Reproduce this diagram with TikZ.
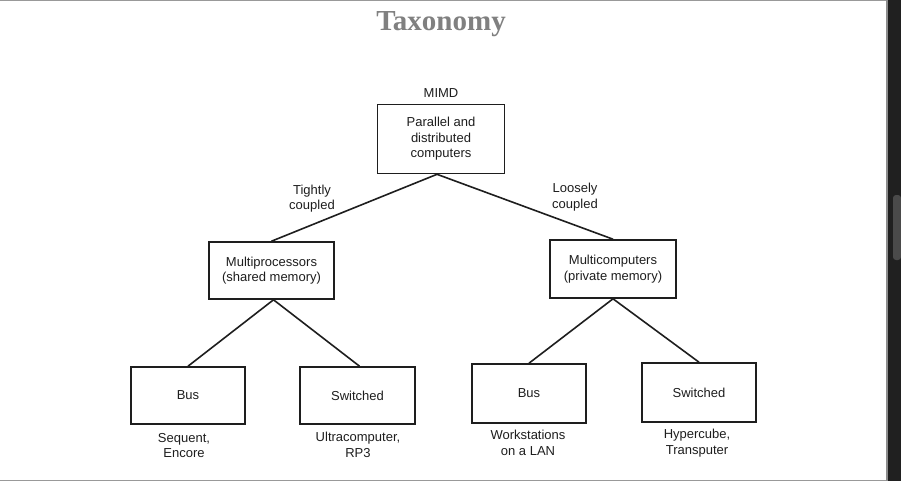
\documentclass[tikz,border=0pt]{standalone}
\usepackage{fontspec}
\setmainfont{Liberation Sans}
\newfontfamily\titlefont{Liberation Serif}
\definecolor{ink}{HTML}{1E1E1E}
\definecolor{titlegray}{HTML}{808080}
\definecolor{darkstrip}{HTML}{202020}
\definecolor{scrollgray}{HTML}{4A4A4A}
\begin{document}
\begin{tikzpicture}[x=1pt,y=-1pt,
  boxnode/.style={draw=ink, line width=1.6pt, rectangle, inner sep=0pt, align=center,
    font=\fontsize{13}{15.5}\selectfont, text=ink},
  lbl/.style={inner sep=0pt, align=center, font=\fontsize{13}{15.5}\selectfont, text=ink},
  conn/.style={draw=ink, line width=1.6pt}]
\useasboundingbox (0,0) rectangle (901,481);
\fill[white] (0,0) rectangle (901,481);
% window frame
\fill[darkstrip] (887,0) rectangle (901,481);
\fill[gray!80] (0,0) rectangle (887,1.5);
\fill[gray!80] (0,479.5) rectangle (887,481);
\fill[gray!90] (886,0) rectangle (887.5,481);
\fill[scrollgray, rounded corners=3pt] (893,195) rectangle (901,260);
% title
\node[font=\titlefont\bfseries\fontsize{29}{32}\selectfont, text=titlegray, inner sep=0pt] (title) at (441,24) {Taxonomy};
% boxes
\node[boxnode, minimum width=127pt, minimum height=69pt] (top) at (441,139) {Parallel and\\distributed\\computers};
\node[lbl] (mimd) at (441,93) {MIMD};
\node[boxnode, minimum width=125pt, minimum height=57pt] (mp) at (271.5,270.5) {Multiprocessors\\(shared memory)};
\node[boxnode, minimum width=126pt, minimum height=58pt] (mc) at (613,269) {Multicomputers\\(private memory)};
\node[boxnode, minimum width=114pt, minimum height=57pt] (bus1) at (188,395.5) {Bus};
\node[boxnode, minimum width=115pt, minimum height=57pt] (sw1) at (357.5,395.5) {Switched};
\node[boxnode, minimum width=114pt, minimum height=59pt] (bus2) at (529,393.5) {Bus};
\node[boxnode, minimum width=114pt, minimum height=59pt] (sw2) at (699,392.5) {Switched};
% connectors
\coordinate (topjoin) at ([xshift=-4pt]top.south);
\draw[conn] (topjoin) -- (mp.north);
\draw[conn] (topjoin) -- (mc.north);
\draw[conn] ([xshift=2pt]mp.south) -- (bus1.north);
\draw[conn] ([xshift=2pt]mp.south) -- ([xshift=2pt]sw1.north);
\draw[conn] (mc.south) -- (bus2.north);
\draw[conn] (mc.south) -- (sw2.north);
% labels
\node[lbl] (tight) at (312,198.5) {Tightly\\coupled};
\node[lbl] (loose) at (575,197) {Loosely\\coupled};
\node[lbl] (l1) at (184,445.5) {Sequent,\\Encore};
\node[lbl] (l2) at (358,445) {Ultracomputer,\\RP3};
\node[lbl] (l3) at (528,443) {Workstations\\on a LAN};
\node[lbl] (l4) at (697,443) {Hypercube,\\Transputer};
\end{tikzpicture}
\end{document}
